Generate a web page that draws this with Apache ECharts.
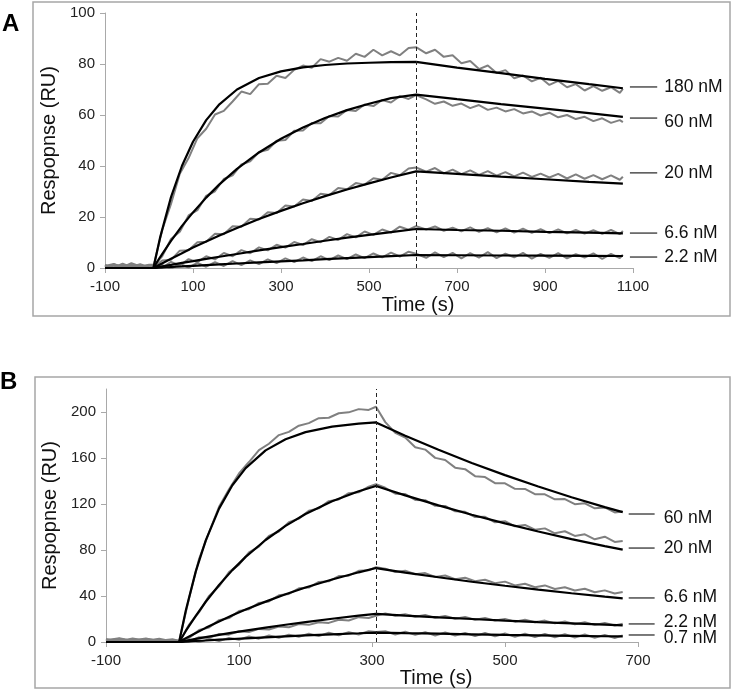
<!DOCTYPE html>
<html><head><meta charset="utf-8">
<script src="https://cdn.jsdelivr.net/npm/echarts@6/dist/echarts.min.js"></script>
<style>html,body{margin:0;padding:0;background:#fff}#c{width:735px;height:691px}</style>
</head><body><div id="c"></div>
<script>
// ---------- Panel A ----------
const xTicksA = [-100,100,300,500,700,900,1100];
const yTicksA = [0,20,40,60,80,100];
const concA = ['180 nM','60 nM','20 nM','6.6 nM','2.2 nM'];
const injEndA = 607;
// measured (grey) sensorgrams
const tA = [-100,-80,-60,-40,-20,0,10,30,50,70,90,110,130,150,170,190,210,230,250,270,290,310,330,350,370,390,410,430,450,470,490,510,530,550,570,590,607,630,650,670,690,710,730,750,770,790,810,830,850,870,890,910,930,950,970,990,1010,1030,1050,1070,1077];
const gA180 = [0.8,1.6,0.3,1.9,0.6,1.2,0.5,14.9,25.1,37.0,43.1,50.9,54.6,60.2,61.6,65.3,69.2,68.2,72.1,72.3,75.4,74.5,77.7,79.4,78.5,81.9,80.9,82.4,81.3,84.0,82.8,85.6,83.4,85.0,83.4,86.3,86.6,84.2,85.6,82.8,83.4,80.3,81.2,78.0,79.4,76.5,77.6,74.4,75.5,73.2,74.6,71.8,73.4,70.9,72.1,69.6,71.3,69.5,70.9,68.7,70.2];
const gA60 = [0.2,1.1,0.4,1.4,0.1,0.9,0.9,4.6,11.4,14.2,20.6,22.7,28.3,30.1,34.9,36.3,40.6,41.8,45.5,46.4,49.9,50.2,53.8,53.9,56.9,56.8,59.6,59.4,62.0,61.6,64.1,63.5,65.9,64.9,67.4,66.3,67.8,66.1,64.4,65.3,63.6,64.5,62.7,63.9,62.0,62.9,61.4,62.3,60.6,61.4,59.8,60.9,59.1,60.0,58.4,59.3,57.6,58.7,56.9,58.0,57.2];
const gA20 = [1.0,0.2,1.3,0.5,1.5,0.3,0.4,2.9,3.2,6.8,7.0,10.1,10.3,13.4,13.2,16.4,16.2,19.3,19.0,21.9,21.6,24.5,24.1,26.9,26.3,29.1,28.6,31.4,30.9,33.3,32.7,35.2,34.6,37.3,36.4,39.0,39.4,37.8,39.2,37.1,38.6,36.8,38.3,36.5,38.0,36.2,37.6,35.9,37.4,35.7,37.0,35.5,36.9,35.1,36.7,35.0,36.4,34.8,36.3,34.6,35.8];
const gA6 = [0.4,1.4,0.6,1.1,0.2,1.3,1.3,0.1,2.4,1.0,3.5,2.3,4.6,3.4,5.9,4.6,7.0,5.8,8.1,6.9,9.1,8.0,10.2,9.0,11.3,10.1,12.2,11.0,13.3,12.0,14.3,13.0,15.1,13.9,16.2,15.0,16.4,15.1,16.3,14.6,15.8,14.4,15.9,14.2,15.6,14.0,15.5,13.9,15.4,13.8,15.2,13.7,15.1,13.6,14.9,13.5,14.8,13.4,14.9,13.3,14.5];
const gA2 = [1.2,0.1,1.7,0.3,0.9,0.0,-0.4,1.2,-0.3,1.6,0.2,2.0,0.5,2.3,0.8,2.7,1.1,3.0,1.5,3.4,1.9,3.8,2.3,4.1,2.7,4.6,3.1,4.9,3.5,5.3,3.9,5.7,4.2,6.0,4.5,6.4,5.6,4.0,6.1,4.3,5.9,3.8,5.8,4.1,6.2,3.9,5.6,4.2,5.9,3.7,5.5,4.0,5.8,3.8,5.4,4.1,5.7,3.6,5.5,3.9,5.2];
// fitted (black) curves
const fA = [-100,10,25,50,75,100,130,160,200,250,300,350,400,450,500,550,607,700,800,900,1000,1077];
const kA180 = [0,0,11.8,27.8,40.1,49.5,58.0,64.2,70.0,74.5,77.1,78.7,79.6,80.2,80.5,80.7,80.8,78.6,76.4,74.2,72.1,70.5];
const kA60 = [0,0,4.2,10.6,16.5,21.8,27.6,32.8,38.9,45.3,50.7,55.1,58.8,61.9,64.4,66.6,68.0,66.2,64.3,62.5,60.7,59.3];
const kA20 = [0,0,1.4,3.6,5.8,8.0,10.4,12.7,15.7,19.2,22.4,25.4,28.2,30.8,33.2,35.5,37.9,36.9,35.8,34.8,33.8,33.1];
const kA6 = [0,0,0.5,1.2,2.0,2.7,3.6,4.4,5.5,6.9,8.2,9.4,10.7,11.9,13.0,14.1,15.3,14.9,14.6,14.2,13.9,13.6];
const kA2 = [0,0,0.16,0.4,0.63,0.87,1.14,1.4,1.77,2.2,2.6,3.0,3.45,3.85,4.25,4.65,5.1,5.0,4.9,4.85,4.75,4.7];
const labLineYA = [71, 58.8, 37.3, 13.7, 4.3];
const labTextYA = [71, 57.3, 37.3, 13.7, 4.3];
const labLineXA = [1093, 1155];

// ---------- Panel B ----------
const xTicksB = [-100,100,300,500,700];
const yTicksB = [0,40,80,120,160,200];
const concB = ['60 nM','20 nM','6.6 nM','2.2 nM','0.7 nM'];
const injEndB = 306;
const tB = [-100,-80,-60,-40,-20,0,10,25,40,55,70,85,100,115,130,145,160,175,190,205,220,235,250,265,280,295,306,320,335,350,365,380,395,410,425,440,455,470,485,500,515,530,545,560,575,590,605,620,635,650,665,677];
const gB60 = [1.5,3.2,0.8,2.7,1.1,2.4,0.8,38.2,72.3,95.4,117.6,132.9,146.6,156.5,166.8,172.4,179.9,182.7,188.1,190.3,194.6,195.0,198.9,199.7,202.5,201.8,204.6,191.2,181.9,177.8,169.4,167.3,160.1,158.2,151.6,150.3,144.2,143.4,138.1,138.0,133.2,133.1,128.5,128.4,124.1,124.3,119.8,120.6,116.2,117.0,112.7,113.4];
const gB20 = [2.6,0.7,3.1,1.2,2.8,0.5,-0.5,15.2,25.9,40.1,48.4,60.8,67.3,77.9,83.0,92.3,96.1,104.2,107.3,114.1,116.2,122.5,124.0,129.4,130.2,135.1,137.2,134.1,128.9,128.6,123.5,123.3,118.4,118.3,113.6,113.2,108.6,108.9,104.1,105.0,100.6,101.8,97.6,98.8,94.5,96.3,92.2,93.6,89.3,91.6,87.0,87.8];
const gB6 = [0.9,2.3,1.4,3.0,0.6,1.8,1.1,3.6,10.4,12.6,19.0,20.8,26.9,28.5,34.0,35.3,40.6,41.8,46.7,47.3,52.2,52.8,57.3,57.7,61.9,62.4,65.0,63.8,60.9,61.9,58.9,59.9,56.6,57.8,54.6,55.9,52.8,54.1,51.1,52.5,49.2,50.6,47.6,49.2,46.1,47.6,44.8,46.3,43.3,44.9,42.2,43.5];
const gB2 = [2.0,0.4,2.5,0.9,1.7,0.3,0.9,0.3,4.1,3.6,7.0,6.4,9.3,8.6,11.4,10.9,13.5,12.8,15.6,14.9,17.2,16.6,19.4,18.7,21.6,20.9,22.8,24.9,22.8,24.1,21.9,23.5,21.0,22.6,20.2,21.8,19.3,20.9,18.6,20.1,17.7,19.3,17.1,18.6,16.2,17.8,15.5,17.2,14.9,16.6,14.3,15.8];
const gB07 = [1.2,2.9,0.5,2.1,1.4,0.6,-0.8,1.9,-0.2,2.7,0.8,3.6,1.9,4.8,2.9,5.6,3.7,6.4,4.6,7.2,5.1,8.0,5.9,8.6,6.5,9.4,8.6,9.4,6.5,8.9,6.2,8.6,5.7,8.3,5.6,7.9,5.1,7.8,4.9,7.4,4.6,7.2,4.4,6.9,4.1,6.7,3.9,6.5,3.7,6.2,3.5,5.8];
const fB = [-100,10,20,35,50,70,90,110,140,170,200,240,280,306,350,400,450,500,550,600,650,677];
const kB60 = [0,0,27.4,61.4,88.4,116.0,136.3,151.2,166.6,176.3,182.5,187.3,189.9,190.9,179.4,167.1,155.7,145.1,135.2,125.9,117.3,112.9];
const kB20 = [0,0,9.6,22.8,35.0,49.6,62.5,74.0,88.7,101.0,111.3,122.4,131.1,135.7,127.5,118.8,110.7,103.1,96.1,89.5,83.4,80.3];
const kB6 = [0,0,3.2,7.8,12.3,17.9,23.2,28.2,35.1,41.5,47.4,54.4,60.6,64.3,60.4,56.3,52.4,48.9,45.5,42.4,39.5,38.0];
const kB2 = [0,0,1.1,2.7,4.2,6.2,8.1,9.9,12.5,15.0,17.3,20.2,22.9,24.5,23.0,21.4,20.0,18.6,17.3,16.2,15.1,14.5];
const kB07 = [0,0,0.3,0.9,1.3,2.0,2.6,3.2,4.1,4.9,5.7,6.7,7.6,8.2,7.7,7.2,6.7,6.2,5.8,5.4,5.0,4.9];
const labLineYB = [111.3, 81.7, 38.3, 15.7, 6.1];
const labTextYB = [107.8, 81.7, 39.1, 17.4, 3.5];
const labLineXB = [686, 725];

// ---------- build ----------
const FONT = '"Liberation Sans", Arial, Helvetica, sans-serif';
const chart = echarts.init(document.getElementById('c'));
const pairs = (t, v) => t.map((x, i) => [x, v[i]]);
const series = [];
function addPanel(idx, t, greys, ft, fits, injEnd) {
  greys.forEach(v => series.push({
    type: 'line', xAxisIndex: idx, yAxisIndex: idx, data: pairs(t, v),
    symbol: 'none', silent: true, z: 2,
    lineStyle: { color: '#808080', width: 2 }
  }));
  fits.forEach((v, i) => series.push({
    type: 'line', xAxisIndex: idx, yAxisIndex: idx, data: pairs(ft, v),
    symbol: 'none', silent: true, z: 3,
    lineStyle: { color: '#000', width: 2.2 },
    markLine: i === 0 ? {
      symbol: 'none', silent: true, label: { show: false },
      lineStyle: { color: '#222', width: 1, type: [4, 3] },
      data: [{ xAxis: injEnd }]
    } : undefined
  }));
}
addPanel(0, tA, [gA180, gA60, gA20, gA6, gA2], fA, [kA180, kA60, kA20, kA6, kA2], injEndA);
addPanel(1, tB, [gB60, gB20, gB6, gB2, gB07], fB, [kB60, kB20, kB6, kB2, kB07], injEndB);

const axisCol = '#a9a9a9';
const plain = v => String(v);
function xAx(idx, min, max, ticks, gap, shift) {
  return {
    gridIndex: idx, type: 'value', min: min, max: max, interval: 200,
    axisLine: { show: true, onZero: false, lineStyle: { color: axisCol, width: 1 } },
    axisTick: { show: true, length: 5, lineStyle: { color: axisCol }, customValues: ticks },
    axisLabel: { customValues: ticks, formatter: plain, margin: 11, fontSize: 15, color: '#222', fontFamily: FONT },
    splitLine: { show: false },
    name: 'Time (s)', nameLocation: 'middle', nameGap: gap,
    nameTextStyle: { fontSize: 20, color: '#111', fontFamily: FONT, padding: [0, 0, 0, shift] }
  };
}
function yAx(idx, max, interval, ticks, gap) {
  return {
    gridIndex: idx, type: 'value', min: 0, max: max, interval: interval,
    axisLine: { show: true, onZero: false, lineStyle: { color: axisCol, width: 1 } },
    axisTick: { show: true, length: 5, lineStyle: { color: axisCol }, customValues: ticks },
    axisLabel: { customValues: ticks, formatter: plain, margin: 10, fontSize: 15, color: '#222', fontFamily: FONT, showMaxLabel: true, showMinLabel: true },
    splitLine: { show: false },
    name: 'Respopnse (RU)', nameLocation: 'middle', nameGap: gap,
    nameTextStyle: { fontSize: 20, color: '#111', fontFamily: FONT }
  };
}

chart.setOption({
  animation: false,
  backgroundColor: '#fff',
  grid: [
    { left: 105, top: 13, width: 528, height: 255 },
    { left: 106, top: 389, width: 532, height: 253 }
  ],
  xAxis: [xAx(0, -100, 1100, xTicksA, 27, 98), xAx(1, -100, 700, xTicksB, 20, 128)],
  yAxis: [yAx(0, 100, 20, yTicksA, 37), yAx(1, 220, 40, yTicksB, 43)],
  series: series
});

// labels, panel frames, panel letters
const g = [];
g.push({ type: 'rect', silent: true, shape: { x: 33, y: 2, width: 697, height: 314 }, style: { fill: 'none', stroke: '#a6a6a6', lineWidth: 1.5 } });
g.push({ type: 'rect', silent: true, shape: { x: 35, y: 377, width: 695, height: 311 }, style: { fill: 'none', stroke: '#a6a6a6', lineWidth: 1.5 } });
g.push({ type: 'text', x: 2, y: 24, style: { text: 'A', fontSize: 24, fontWeight: 'bold', fontFamily: FONT, fill: '#000', verticalAlign: 'middle' } });
g.push({ type: 'text', x: 0, y: 382, style: { text: 'B', fontSize: 24, fontWeight: 'bold', fontFamily: FONT, fill: '#000', verticalAlign: 'middle' } });
function addLabels(idx, names, lx, ly, ty, gapPx) {
  names.forEach((s, i) => {
    const p1 = chart.convertToPixel({ gridIndex: idx }, [lx[0], ly[i]]);
    const p2 = chart.convertToPixel({ gridIndex: idx }, [lx[1], ly[i]]);
    const pt = chart.convertToPixel({ gridIndex: idx }, [lx[1], ty[i]]);
    g.push({ type: 'line', silent: true, shape: { x1: p1[0], y1: p1[1], x2: p2[0], y2: p2[1] }, style: { stroke: '#222', lineWidth: 1.2 } });
    g.push({ type: 'text', x: pt[0] + gapPx, y: pt[1], style: { text: s, fontSize: 17.5, fontFamily: FONT, fill: '#111', verticalAlign: 'middle' } });
  });
}
addLabels(0, concA, labLineXA, labLineYA, labTextYA, 7);
addLabels(1, concB, labLineXB, labLineYB, labTextYB, 9);
chart.setOption({ graphic: g });
</script>
</body></html>
